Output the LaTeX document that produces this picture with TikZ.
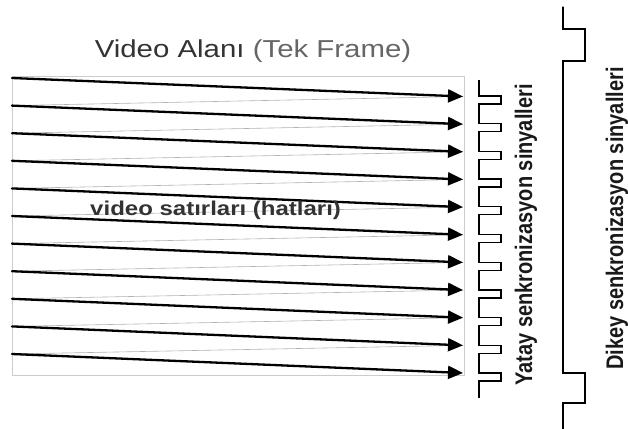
\documentclass[tikz,border=0pt]{standalone}
\usepackage{fontspec}
\setmainfont{Liberation Sans}
\usepackage{tkz-euclide}
\usetikzlibrary{arrows.meta}

\begin{document}
\begin{tikzpicture}[x=1pt,y=-1pt]
\useasboundingbox (0,0) rectangle (628,428);

\tkzDefPoint(12,76){R}
\tkzDefPoint(464,375){Q}
\draw[black!20,line width=0.9pt] (R) rectangle (Q);

\foreach \k in {0,...,10}{
  \tkzDefPoint(12,78+27.6*\k){S\k}
  \tkzDefPoint(463,96.5+27.65*\k){E\k}
  \tkzDefPoint(479,96+27.7*\k){Ha\k}
  \tkzDefPoint(501,96+27.7*\k){Hb\k}
  \tkzDefPoint(501,104+27.7*\k){Hc\k}
  \tkzDefPoint(479,104+27.7*\k){Hd\k}
}
\foreach \k [evaluate=\k as \n using int(\k+1)] in {0,...,9}{
  \tkzDrawSegments[black!30,line width=0.6pt](E\k,S\n)
}
\foreach \k in {0,...,10}{
  \tkzDrawSegments[line width=2.3pt,-{Triangle[length=15pt,width=13pt]}](S\k,E\k)
}

\tkzDefPoint(479,80){H}
\tkzDefPoint(479,398){Hz}
\draw[line width=1.3pt] (H) \foreach \k in {0,...,10}{ -- (Ha\k) -- (Hb\k) -- (Hc\k) -- (Hd\k)} -- (Hz);

\tkzDefPoint(563,7){V1}
\tkzDefPoint(563,29){V2}
\tkzDefPoint(585,29){V3}
\tkzDefPoint(585,61){V4}
\tkzDefPoint(563,61){V5}
\tkzDefPoint(563,373){V6}
\tkzDefPoint(585,373){V7}
\tkzDefPoint(585,403){V8}
\tkzDefPoint(563,403){V9}
\tkzDefPoint(563,430){V10}
\tkzDrawPolySeg[line width=1.3pt](V1,V2,V3,V4,V5,V6,V7,V8,V9,V10)

\node (title) [anchor=base,inner sep=0,xscale=1.2,font=\fontsize{24.5}{29}\selectfont]
  at (253,57) {\color{black!80}Video Alanı \color{black!60}(Tek Frame)};
\node (lines) [anchor=base west,inner sep=0,xscale=1.2,text=black!80,font=\bfseries\fontsize{20}{24}\selectfont]
  at (90,215) {video satırları (hatları)};
\node (yatay) [anchor=base,inner sep=0,xscale=1.2,rotate=90,text=black!90,font=\bfseries\fontsize{20}{24}\selectfont]
  at (532,235) {Yatay senkronizasyon sinyalleri};
\node (dikey) [anchor=base,inner sep=0,xscale=1.2,rotate=90,text=black!90,font=\bfseries\fontsize{20}{24}\selectfont]
  at (623,218.5) {Dikey senkronizasyon sinyalleri};

\end{tikzpicture}
\end{document}
